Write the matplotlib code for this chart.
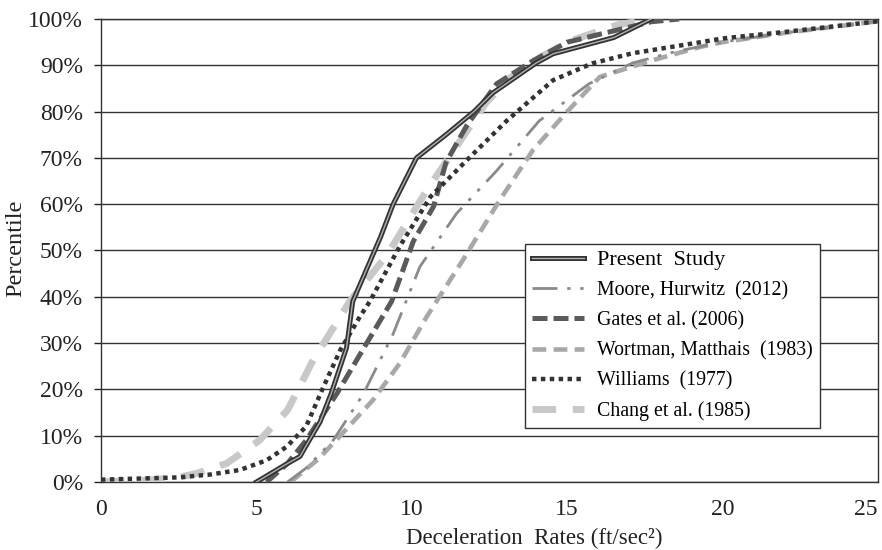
import matplotlib
matplotlib.use("Agg")
import matplotlib.pyplot as plt
import matplotlib.patheffects as pe
from matplotlib.ticker import FuncFormatter, MultipleLocator

plt.rcParams['font.family'] = ['Liberation Serif', 'DejaVu Serif']

# ---- data ----
present_x = [5.0, 6.0, 6.4, 6.7, 7.05, 7.4, 7.9, 8.1, 9.0, 9.4, 10.15, 11.1, 12.0, 12.6, 14.0, 14.55, 16.5, 17.1, 17.7]
present_y = [0, 4, 5.5, 9, 13, 19, 29, 39, 53, 60, 70, 75, 80, 84, 90.5, 92.5, 96, 98, 100]

moore_x = [6.0, 6.6, 7.47, 8.44, 9.4, 10.26, 11.44, 12.7, 14.1, 15.7, 17.1, 18.5, 20.0, 22.0, 25.0]
moore_y = [0, 3, 9, 19, 32, 46.5, 58, 67, 78, 86, 90.5, 93, 95, 97, 99.5]

gates_x = [5.33, 6.0, 6.6, 7.58, 8.55, 9.35, 10.05, 10.7, 11.1, 11.77, 12.73, 13.9, 15.0, 16.6, 17.7, 18.6]
gates_y = [0, 4, 9, 19, 30, 39, 52, 59.5, 69, 77, 86, 91, 95, 97.6, 99.4, 100]

wortman_x = [6.1, 7.0, 7.7, 8.75, 9.62, 10.48, 11.65, 12.84, 13.9, 15.0, 16.05, 17.7, 19.3, 20.0, 22.0, 25.0]
wortman_y = [0, 5, 10, 17.7, 25.7, 35.7, 48, 61, 71.7, 80, 87.5, 91, 94, 95, 97, 99.5]

williams_x = [0, 1.0, 2.5, 3.5, 4.47, 5.33, 5.97, 6.6, 7.16, 7.7, 8.33, 8.65, 9.62, 10.6, 11.77, 13.05, 14.55, 15.8, 17.1, 19.3, 20.0, 22.0, 25.0]
williams_y = [0.5, 0.7, 1.0, 1.6, 2.6, 4.7, 7.6, 12, 20.6, 28.5, 35.7, 39, 51, 61.6, 69.5, 78, 86.8, 90.4, 92.6, 95, 95.8, 97.2, 99.5]

chang_x = [0, 1.5, 2.5, 3.1, 4.04, 5.1, 6.0, 6.83, 7.7, 8.0, 9.2, 9.84, 10.48, 12.4, 13.2, 14.2, 15.2, 16.6, 17.7]
chang_y = [0, 0.4, 1.0, 1.9, 4, 9, 15.5, 26.4, 35.7, 39, 49, 56, 63, 82, 87.5, 92, 95.5, 98.7, 100]

labels = ["Present  Study", "Moore, Hurwitz  (2012)", "Gates et al. (2006)",
          "Wortman, Matthais  (1983)", "Williams  (1977)", "Chang et al. (1985)"]

x_ticks = [0, 5, 10, 15, 20, 25]

# ---- figure ----
fig = plt.figure(figsize=(8.82, 5.5), dpi=100)
ax = fig.add_axes([101/882, (550-482)/550, 777/882, 463/550])

h_chang, = ax.plot(chang_x, [v/100 for v in chang_y], color='#c8c8c8', lw=5,
                   linestyle=(0, (3.4, 2.4)), zorder=3, label=labels[5])
h_wort, = ax.plot(wortman_x, [v/100 for v in wortman_y], color='#a8a8a8', lw=3.3,
                  linestyle=(0, (3.0, 1.6)), zorder=4, label=labels[3])
h_moore, = ax.plot(moore_x, [v/100 for v in moore_y], color='#8a8a8a', lw=2.0,
                   linestyle=(0, (9, 3.5, 1.2, 3.5, 1.2, 3.5)), zorder=5, label=labels[1])
h_gates, = ax.plot(gates_x, [v/100 for v in gates_y], color='#5a5a5a', lw=3.6,
                   linestyle=(0, (3.0, 1.2)), zorder=6, label=labels[2])
h_will, = ax.plot(williams_x, [v/100 for v in williams_y], color='#333333', lw=3.2,
                  linestyle=(0, (1, 1)), zorder=7, label=labels[4])
h_pres, = ax.plot(present_x, [v/100 for v in present_y], color='#b0b0b0', lw=1.0,
                  zorder=8, label=labels[0],
                  path_effects=[pe.Stroke(linewidth=3.6, foreground='#333333'), pe.Normal()])

ax.set_xlim(0, 25)
ax.set_ylim(0, 1)
ax.set_xticks(x_ticks)
ax.yaxis.set_major_locator(MultipleLocator(0.1))
ax.yaxis.set_major_formatter(FuncFormatter(lambda v, p: f"{int(round(v*100))}%"))
ax.grid(axis='y', color='#333333', lw=1.0)
ax.set_axisbelow(True)
for s in ax.spines.values():
    s.set_color('#333333')
    s.set_linewidth(1.0)

ax.tick_params(axis='x', length=0, pad=12, labelsize=17, colors='#222222')
ax.tick_params(axis='y', length=5, width=1, pad=8, labelsize=17, colors='#222222')
xt = ax.get_xticklabels()
xt[-1].set_horizontalalignment('right')

ax.set_xlabel("Deceleration  Rates (ft/sec\u00b2)", fontsize=16.5, color='#222222')
ax.xaxis.set_label_coords(0.557, -0.1)
ax.set_ylabel("Percentile", fontsize=17.5, color='#222222')
ax.yaxis.set_label_coords(-0.096, 0.505)

handles = [h_pres, h_moore, h_gates, h_wort, h_will, h_chang]
leg = ax.legend(handles, labels, loc='upper left',
                bbox_to_anchor=((525-101)/777, (482-244)/463),
                borderaxespad=0, fancybox=False, framealpha=1, edgecolor='#333333',
                fontsize=14.3, handlelength=2.6, handletextpad=0.7,
                labelspacing=0.55, borderpad=0.35)
leg.get_frame().set_linewidth(1.0)
leg.set_zorder(20)
leg.get_texts()[0].set_fontsize(16)

fig.savefig("out.png", dpi=100)
